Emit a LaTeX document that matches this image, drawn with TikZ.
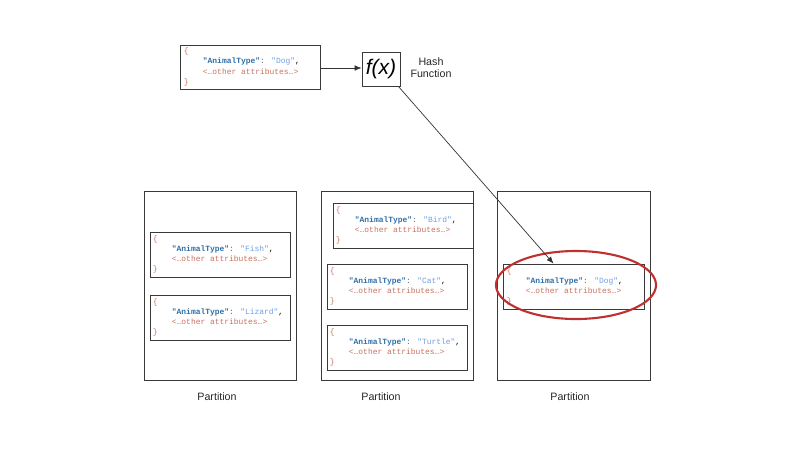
\documentclass[tikz,border=0pt]{standalone}
\usepackage{fontspec}
\setmainfont{Liberation Sans}
\newfontfamily\codefont{Liberation Mono}
\usetikzlibrary{arrows.meta,calc,fit,shapes.geometric}
\definecolor{keyblue}{HTML}{2F6EA8}
\definecolor{valblue}{HTML}{6F9FE0}
\definecolor{attrred}{HTML}{C8705E}
\definecolor{boxgray}{HTML}{3A3A3A}
\definecolor{ringred}{HTML}{C0302E}
\newcommand{\recordtext}[1]{{\color{attrred}\{}\\\phantom{0000}{\bfseries\color{keyblue}"AnimalType"}{\color{gray!80!black}: }{\color{valblue}"#1"},\\\phantom{0000}{\color{attrred}<…other attributes…>}\\{\color{attrred}\}}}
\tikzset{
  recbox/.style={draw=boxgray, line width=0.6pt, inner sep=0pt},
  partbox/.style={draw=boxgray, line width=0.6pt, inner sep=0pt},
  rectext/.style={anchor=west, align=left, inner sep=0pt, font=\codefont\fontsize{5.65}{7.3}\selectfont},
  caption/.style={font=\fontsize{7.6}{8.5}\selectfont, text=black!85},
  arr/.style={draw=black!80, line width=0.5pt, -{Latex[length=5pt,width=4pt]}},
}
\begin{document}
\begin{tikzpicture}[x=0.025cm,y=-0.025cm]
\useasboundingbox (0,0) rectangle (800,450);
% top record and hash function
\node[recbox, fit={(180,45) (320,89)}] (src) {};
\node[rectext] (srct) at ($(src.west)+(4,0)$) {\recordtext{Dog}};
\node[draw=boxgray, line width=0.6pt, minimum width=0.95cm, minimum height=0.85cm, inner sep=0pt, font=\fontsize{15}{18}\selectfont\itshape] (fx) at (381,69) {f(x)};
\node[caption, align=center] (hash) at (431,68) {Hash\\Function};
\coordinate (srcout) at ($(src.east)+(0,1)$);
\draw[arr] (srcout) -- (srcout -| fx.west);
% partitions
\node[partbox, fit={(144,191) (296,380)}] (p1) {};
\node[partbox, fit={(321,191) (473,380)}] (p2) {};
\node[partbox, fit={(497,191) (650,380)}] (p3) {};
\node[caption] (l1) at (217,397) {Partition};
\node[caption] (l2) at (381,397) {Partition};
\node[caption] (l3) at (570,397) {Partition};
% partition 1
\node[recbox, fit={(150,232) (290,277)}] (fish) {};
\node[rectext] at ($(fish.west)+(3,0)$) {\recordtext{Fish}};
\node[recbox, fit={(150,295) (290,340)}] (lizard) {};
\node[rectext] at ($(lizard.west)+(3,0)$) {\recordtext{Lizard}};
% partition 2
\node[recbox, fit={(333,203) (473,248)}] (bird) {};
\node[rectext] at ($(bird.west)+(3,0)$) {\recordtext{Bird}};
\node[recbox, fit={(327,264) (467,309)}] (cat) {};
\node[rectext] at ($(cat.west)+(3,0)$) {\recordtext{Cat}};
\node[recbox, fit={(327,325) (467,370)}] (turtle) {};
\node[rectext] at ($(turtle.west)+(3,0)$) {\recordtext{Turtle}};
% partition 3
\node[recbox, fit={(503,264) (644,309)}] (dog) {};
\node[rectext] at ($(dog.west)+(4,0)$) {\recordtext{Dog}};
\node[draw=ringred, line width=1.5pt, ellipse, minimum width=4cm, minimum height=1.7cm, inner sep=0pt] (ring) at (576,285) {};
\draw[arr] ($(fx.south east)+(-2,0)$) -- ($(dog.north)+(-20,0)$);
\end{tikzpicture}
\end{document}
